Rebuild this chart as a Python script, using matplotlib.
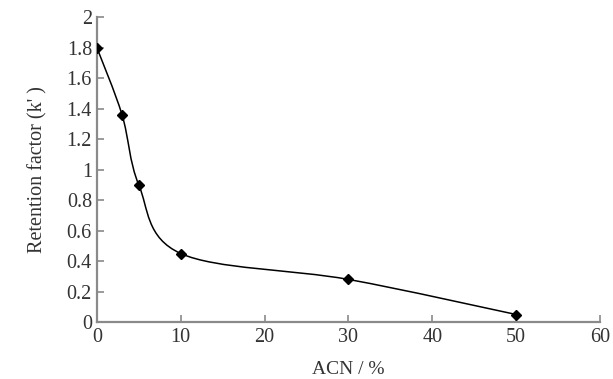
import matplotlib.pyplot as plt
from matplotlib.path import Path
from matplotlib.patches import PathPatch

# ACN content [%] vs retention factor k'
acn = [0, 3, 5, 10, 30, 50]
k_ret = [1.80, 1.36, 0.90, 0.45, 0.28, 0.05]

x_ticks = [0, 10, 20, 30, 40, 50, 60]
y_ticks = [0, 0.2, 0.4, 0.6, 0.8, 1.0, 1.2, 1.4, 1.6, 1.8, 2.0]
y_ticklabels = ["0", "0.2", "0.4", "0.6", "0.8", "1", "1.2", "1.4", "1.6", "1.8", "2"]

GREY = "#8a8a8a"
TXT = "#333333"

plt.rcParams["font.family"] = ["Liberation Serif", "DejaVu Serif"]

fig = plt.figure(figsize=(6.13, 3.79), dpi=100)
ax = fig.add_axes([0.158, 0.150, 0.821, 0.805])

# smoothed line: Catmull-Rom style bezier segments through the data points
verts = [(acn[0], k_ret[0])]
codes = [Path.MOVETO]
n = len(acn)
t = 1 / 6
for i in range(n - 1):
    p0 = (acn[max(i - 1, 0)], k_ret[max(i - 1, 0)])
    p1 = (acn[i], k_ret[i])
    p2 = (acn[i + 1], k_ret[i + 1])
    p3 = (acn[min(i + 2, n - 1)], k_ret[min(i + 2, n - 1)])
    c1 = (p1[0] + (p2[0] - p0[0]) * t, p1[1] + (p2[1] - p0[1]) * t)
    c2 = (p2[0] - (p3[0] - p1[0]) * t, p2[1] - (p3[1] - p1[1]) * t)
    verts += [c1, c2, p2]
    codes += [Path.CURVE4] * 3
ax.add_patch(PathPatch(Path(verts, codes), fc="none", ec="black", lw=1.1))

ax.plot(acn, k_ret, ls="none", marker="D", ms=5, color="black", zorder=5)

ax.set_xlim(0, 60)
ax.set_ylim(0, 2)
ax.set_xticks(x_ticks)
ax.set_yticks(y_ticks)
ax.set_yticklabels(y_ticklabels)
ax.tick_params(direction="in", length=5, width=1.2, color=GREY,
               labelsize=14.5, labelcolor=TXT)
ax.tick_params(axis="x", pad=4)
ax.tick_params(axis="y", pad=3.5)
for side in ("top", "right"):
    ax.spines[side].set_visible(False)
for side in ("left", "bottom"):
    ax.spines[side].set_color(GREY)
    ax.spines[side].set_linewidth(1.6)
for lab in ax.get_xticklabels() + ax.get_yticklabels():
    lab.set_clip_on(False)

ax.set_xlabel("ACN / %", fontsize=14, color=TXT, labelpad=10)
ax.set_ylabel("Retention factor (k' )", fontsize=14.5, color=TXT, labelpad=14)

fig.savefig("out.png", dpi=100)
